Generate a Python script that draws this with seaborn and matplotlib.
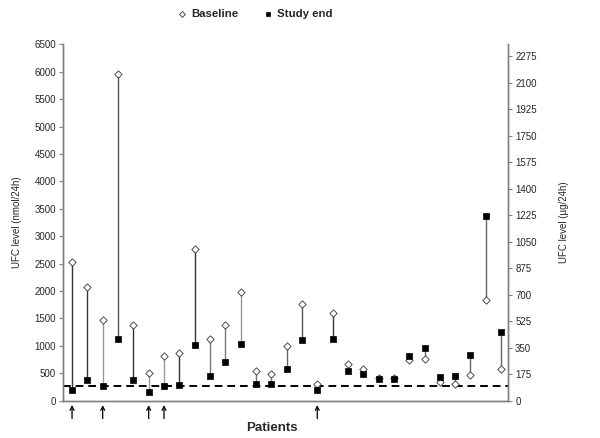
import numpy as np
import pandas as pd
import seaborn as sns
import matplotlib.pyplot as plt

# UFC values (nmol/24h), one per patient
patients = list(range(1, 30))
baseline = [2530, 2070, 1470, 5950, 1380, 515, 810, 870, 2760, 1130,
            1375, 1975, 535, 495, 990, 1770, 300, 1600, 670, 585,
            420, 410, 735, 770, 345, 310, 475, 1840, 575]
study_end = [200, 370, 265, 1135, 380, 160, 265, 285, 1020, 460,
             710, 1030, 300, 300, 585, 1105, 195, 1135, 545, 485,
             405, 395, 815, 965, 440, 450, 835, 3360, 1245]
arrow_patients = [1, 3, 6, 7, 17]
uln = 276          # upper limit of normal, 100 ug/24h
nmol_per_ug = 2.76

left_ticks = list(range(0, 6501, 500))
right_ticks = list(range(0, 2276, 175))

sns.set_style("white")
plt.rcParams['font.family'] = ['Liberation Sans', 'DejaVu Sans']

df = pd.DataFrame({'patient': patients, 'baseline': baseline, 'study_end': study_end})

fig = plt.figure(figsize=(6, 4.38), dpi=100)
ax = fig.add_axes([0.105, 0.085, 0.742, 0.814])

# connecting lines, shade varies a little between patients
shades = ['#333333', '#333333', '#999999', '#555555', '#333333', '#999999', '#999999',
          '#333333', '#333333', '#777777', '#777777', '#999999', '#777777', '#777777',
          '#666666', '#555555', '#777777', '#333333'] + ['#666666'] * 11
ax.vlines(df['patient'], df['baseline'], df['study_end'], colors=shades, lw=1, zorder=1)

ax.axhline(uln, color='black', ls=(0, (4, 2.5)), lw=1.4, zorder=2)

sns.scatterplot(data=df, x='patient', y='baseline', marker='D', s=14, color='white',
                edgecolor='#333333', linewidth=0.6, ax=ax, zorder=3, label='Baseline')
sns.scatterplot(data=df, x='patient', y='study_end', marker='s', s=20, color='black',
                edgecolor='black', linewidth=0.5, ax=ax, zorder=4, label='Study end')

ax.set_xlim(0.41, 29.46)
ax.set_ylim(0, 6500)
ax.set_yticks(left_ticks)
ax.set_xticks([])
ax.tick_params(axis='y', labelsize=7, length=3, color='#808080', direction='out', left=True, pad=2)
ax.set_ylabel('UFC level (nmol/24h)', fontsize=7, labelpad=9)
ax.set_xlabel('Patients', fontsize=9.5, fontweight='bold', labelpad=12)
ax.xaxis.set_label_coords(0.47, -0.06)

ax2 = ax.twinx()
ax2.set_ylim(0, 6500 / nmol_per_ug)
ax2.set_yticks(right_ticks)
ax2.tick_params(axis='y', labelsize=7, length=3, color='#808080', direction='out', right=True, pad=2)
ax2.set_ylabel('UFC level (µg/24h)', fontsize=7, labelpad=16)

for a in (ax, ax2):
    a.spines['top'].set_visible(False)
    for s in ('left', 'right', 'bottom'):
        a.spines[s].set_color('#808080')
        a.spines[s].set_linewidth(1)

# arrows under the axis
for p in arrow_patients:
    ax.annotate('', xy=(p, -0.012), xycoords=('data', 'axes fraction'),
                xytext=(p, -0.05), textcoords=('data', 'axes fraction'),
                arrowprops=dict(arrowstyle='->', color='black', lw=0.9,
                                shrinkA=0, shrinkB=0, mutation_scale=7),
                annotation_clip=False)

handles, labels = ax.get_legend_handles_labels()
ax.legend_.remove()
leg = fig.legend(handles, labels, loc='center', bbox_to_anchor=(0.425, 0.968), ncol=2,
                 frameon=False, prop={'size': 8.2, 'weight': 'bold'},
                 handlelength=0.8, handletextpad=0.4, columnspacing=2.2, markerscale=0.8)

fig.savefig('out.png', dpi=100)
